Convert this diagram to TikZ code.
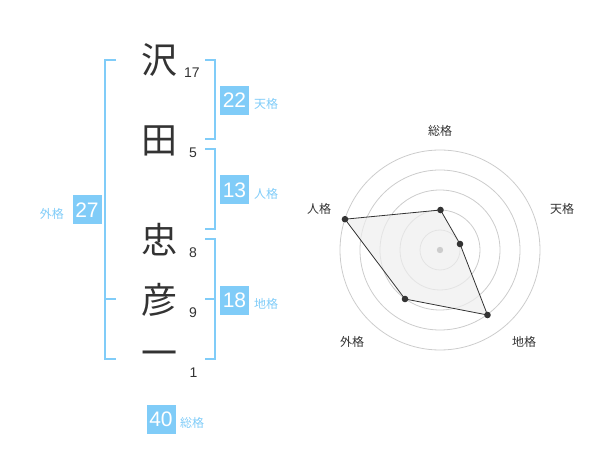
\documentclass[tikz,border=0pt]{standalone}
\usepackage{fontspec}
\setmainfont{Liberation Sans}
\newfontfamily\cjk{Noto Sans CJK JP}
\definecolor{blu}{HTML}{80CCF8}
\definecolor{ink}{HTML}{333333}
\definecolor{ring}{HTML}{CCCCCC}
\definecolor{area}{HTML}{EEEEEE}
\tikzset{
  br/.style={draw=blu, line width=2pt, line join=miter},
  kanji/.style={font=\cjk\fontsize{36}{36}\selectfont, text=ink, inner sep=0pt},
  stroke/.style={font=\fontsize{14}{14}\selectfont, text=ink, inner sep=0pt},
  numbox/.style={fill=blu, text=white, minimum width=29pt, minimum height=29pt, inner sep=0pt, font=\fontsize{21}{21}\selectfont},
  kaku/.style={font=\cjk\fontsize{12}{12}\selectfont, text=blu, inner sep=0pt, anchor=west},
  rlab/.style={font=\cjk\fontsize{12}{12}\selectfont, text=ink, inner sep=0pt},
  ringc/.style={draw=ring, line width=0.8pt},
  dot/.style={fill=ink},
}
\begin{document}
\begin{tikzpicture}[x=1pt,y=-1pt]
\useasboundingbox (0,0) rectangle (600,470);
% characters
\node[kanji] (c1) at (159.5,60) {沢};
\node[kanji] (c2) at (159.5,141) {田};
\node[kanji] (c3) at (159.5,240) {忠};
\node[kanji] (c4) at (159.5,300) {彦};
\node[kanji] (c5) at (159.5,359) {一};
% stroke counts
\node[stroke] (s1) at (192,72.5) {17};
\node[stroke] (s2) at (193,152.5) {5};
\node[stroke] (s3) at (193,253) {8};
\node[stroke] (s4) at (193,313) {9};
\node[stroke] (s5) at (193.5,373) {1};
% brackets
\draw[br] (116,60) -- (105,60) -- (105,359.3) -- (116,359.3);
\draw[br] (105,299.3) -- (116,299.3);
\draw[br] (205.3,60) -- (215,60) -- (215,139.3) -- (205.3,139.3);
\draw[br] (205.3,149.3) -- (215,149.3) -- (215,229.3) -- (205.3,229.3);
\draw[br] (205.3,239.3) -- (215,239.3) -- (215,359.3) -- (205.3,359.3);
\draw[br] (205.3,299.3) -- (215,299.3);
% boxes
\node[numbox] (b1) at (234.5,100.5) {22};
\node[kaku] (k1) at (254,104) {天格};
\node[numbox] (b2) at (234.5,190) {13};
\node[kaku] (k2) at (254,194) {人格};
\node[numbox] (b3) at (234.5,300.5) {18};
\node[kaku] (k3) at (254,304) {地格};
\node[numbox] (b4) at (87,210) {27};
\node[kaku, anchor=east] (k4) at (64,213.5) {外格};
\node[numbox] (b5) at (161,419) {40};
\node[kaku] (k5) at (180,423) {総格};
% radar
\coordinate (o) at (440,250);
\foreach \r in {20,40,60,80,100} \draw[ringc] (o) circle[radius=\r];
\coordinate (p1) at (440.5,210);
\coordinate (p2) at (460,244);
\coordinate (p3) at (487.5,315);
\coordinate (p4) at (405,299);
\coordinate (p5) at (345,219.2);
\filldraw[fill=area, fill opacity=0.7, draw=ink, line width=0.8pt, line join=round] (p1) -- (p2) -- (p3) -- (p4) -- (p5) -- cycle;
\fill[ring] (o) circle[radius=3.2];
\foreach \p in {p1,p2,p3,p4,p5} \fill[dot] (\p) circle[radius=3.3];
\node[rlab] (r1) at (440,130.5) {総格};
\node[rlab] (r2) at (562,208.5) {天格};
\node[rlab] (r3) at (524,342) {地格};
\node[rlab] (r4) at (352,342) {外格};
\node[rlab] (r5) at (319,208.5) {人格};
\end{tikzpicture}
\end{document}
